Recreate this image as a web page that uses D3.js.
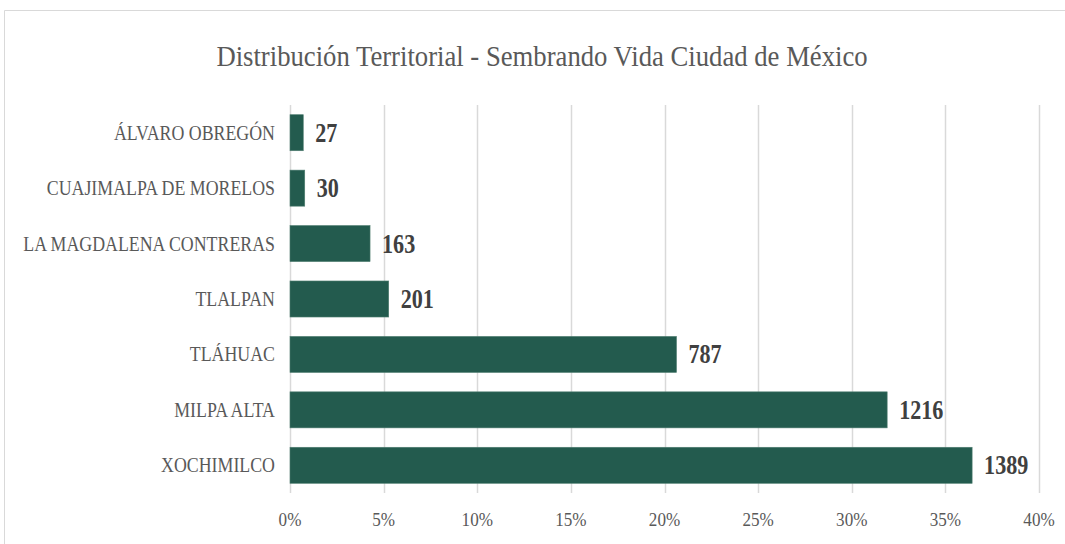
<!DOCTYPE html>
<html>
<head>
<meta charset="utf-8">
<script src="https://cdn.jsdelivr.net/npm/d3@7"></script>
<style>
  body { margin: 0; background: #fff; }
  svg { display: block; }
</style>
</head>
<body>
<div id="viz"></div>
<script>
const width = 1065;
const height = 544;

// data
const municipios = ["ÁLVARO OBREGÓN", "CUAJIMALPA DE MORELOS", "LA MAGDALENA CONTRERAS", "TLALPAN", "TLÁHUAC", "MILPA ALTA", "XOCHIMILCO"];
const beneficiarios = [27, 30, 163, 201, 787, 1216, 1389];
const ticks = [0, 0.05, 0.10, 0.15, 0.20, 0.25, 0.30, 0.35, 0.40];

const total = d3.sum(beneficiarios);
const data = municipios.map((m, i) => ({ name: m, value: beneficiarios[i], share: beneficiarios[i] / total }));

const margin = { top: 105, right: 26, bottom: 51, left: 290 };
const serif = "'Liberation Serif', 'Times New Roman', Tinos, 'DejaVu Serif', serif";

const svg = d3.select("#viz")
    .append("svg")
    .attr("width", width)
    .attr("height", height)
    .attr("font-family", serif);

// chart frame
svg.append("path")
    .attr("d", "M4.5," + height + "V10.5H" + width)
    .attr("fill", "none")
    .attr("stroke", "#d9d9d9")
    .attr("stroke-width", 1);

var x = d3.scaleLinear()
    .domain([0, 0.4])
    .range([margin.left, width - margin.right]);

var y = d3.scaleBand()
    .domain(municipios)
    .range([margin.top, height - margin.bottom])
    .paddingInner(0.35)
    .paddingOuter(0.175);

// gridlines
svg.append("g")
    .selectAll("line")
    .data(ticks)
    .join("line")
    .attr("x1", d => Math.round(x(d)) + 0.5)
    .attr("x2", d => Math.round(x(d)) + 0.5)
    .attr("y1", margin.top)
    .attr("y2", height - margin.bottom)
    .attr("stroke", "#d9d9d9")
    .attr("stroke-width", 1.5);

// tick labels
svg.append("g")
    .selectAll("text")
    .data(ticks)
    .join("text")
    .attr("transform", d => "translate(" + x(d) + "," + (height - 18) + ") scale(0.9,1)")
    .attr("text-anchor", "middle")
    .attr("fill", "#595959")
    .style("font-size", "19px")
    .text(d3.format(".0%"));

// bars
svg.append("g")
    .selectAll("rect")
    .data(data)
    .join("rect")
    .attr("x", x(0))
    .attr("y", d => y(d.name))
    .attr("width", d => x(d.share) - x(0))
    .attr("height", y.bandwidth())
    .attr("fill", "#235b4e")
    .attr("stroke", "#4f7d70")
    .attr("stroke-width", 0.6);

// category labels
svg.append("g")
    .selectAll("text")
    .data(data)
    .join("text")
    .attr("transform", d => "translate(" + (x(0) - 15) + "," + (y(d.name) + y.bandwidth() / 2 + 7) + ") scale(0.85,1)")
    .attr("text-anchor", "end")
    .attr("fill", "#595959")
    .style("font-size", "21px")
    .text(d => d.name);

// value labels
svg.append("g")
    .selectAll("text")
    .data(data)
    .join("text")
    .attr("transform", d => "translate(" + (x(d.share) + 12) + "," + (y(d.name) + y.bandwidth() / 2 + 9) + ") scale(0.82,1)")
    .attr("fill", "#404040")
    .style("font-size", "27px")
    .style("font-weight", "bold")
    .text(d => d.value);

// title
svg.append("text")
    .attr("transform", "translate(542,66) scale(0.89,1)")
    .attr("text-anchor", "middle")
    .attr("fill", "#595959")
    .style("font-size", "30px")
    .text("Distribución Territorial  - Sembrando Vida Ciudad de México");
</script>
</body>
</html>
